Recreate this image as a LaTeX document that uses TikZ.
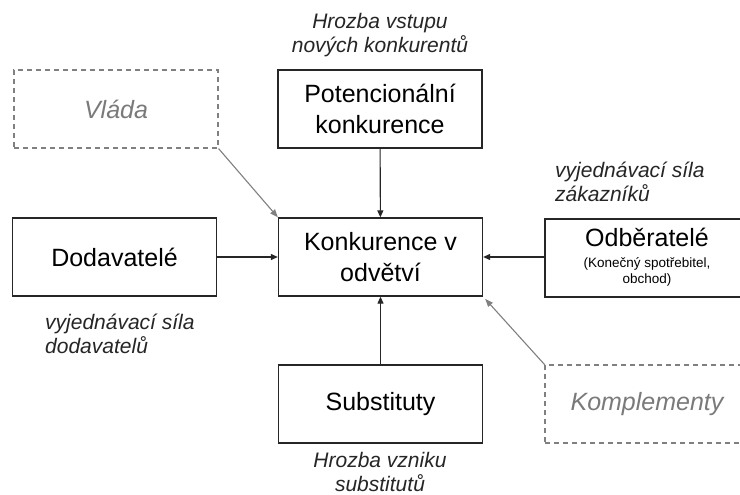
\documentclass[tikz,border=0pt]{standalone}
\usepackage{fontspec}
\setmainfont{Liberation Sans}
\usetikzlibrary{arrows.meta}

\definecolor{linegray}{HTML}{808080}
\definecolor{textgray}{HTML}{7A7A7A}
\newcommand{\boxfont}{\fontsize{25}{31}\selectfont}
\newcommand{\labfont}{\fontsize{21}{24}\selectfont\itshape}
\newcommand{\subfont}{\fontsize{13.5}{16}\selectfont}

\begin{document}
\begin{tikzpicture}[
    x=1pt, y=-1pt,
    force/.style={draw=black!85, line width=1.3pt, minimum width=204pt, minimum height=78pt, align=center, font=\boxfont, inner sep=0pt},
    outer/.style={draw=linegray, dashed, dash pattern=on 5pt off 4pt, line width=1.1pt, minimum width=204pt, minimum height=78pt, font=\boxfont\itshape, text=textgray, inner sep=0pt},
    lab/.style={font=\labfont, align=left, inner sep=0pt, text=black!85},
    arr/.style={-{Triangle[length=7pt,width=6pt]}, line width=1.1pt, black!85},
    garr/.style={-{Triangle[length=8pt,width=6pt]}, line width=1.1pt, linegray}
]
\fill[white] (0,0) rectangle (740,495);
\clip (0,0) rectangle (740,495);

% pět sil
\node[force] (potenc) at (380,109) {Potencionální\\konkurence};
\node[force] (konk) at (380.5,257) {Konkurence v\\odvětví};
\node[force] (dodav) at (114.5,257) {Dodavatelé};
\node[force] (odber) at (647,258) {Odběratelé\\[-2pt]{\subfont\begin{tabular}{@{}c@{}}(Konečný spotřebitel,\\obchod)\end{tabular}}};
\node[force] (subst) at (380.5,404) {Substituty};

% vnější vlivy
\node[outer] (vlada) at (116,109) {Vláda};
\node[outer] (kompl) at (647,404) {Komplementy};

% popisky
\node[lab, align=center] (hrozbaVstup) at (380,35) {Hrozba vstupu\\nových konkurentů};
\node[lab, anchor=west] (silaZak) at (555,182) {vyjednávací síla\\zákazníků};
\node[lab, anchor=west] (silaDod) at (45,334) {vyjednávací síla\\dodavatelů};
\node[lab, align=center] (hrozbaSubst) at (380,472) {Hrozba vzniku\\substitutů};

% šipky
\draw[arr] (potenc) -- (konk);
\draw[arr] (dodav) -- (konk);
\draw[arr] (odber.west |- konk) -- (konk);
\draw[arr] (subst) -- (konk);
\draw[garr] (vlada.south east) -- (konk.north west);
\draw[garr, shorten >=3pt] (kompl.north west) -- (konk.south east);

\end{tikzpicture}
\end{document}
